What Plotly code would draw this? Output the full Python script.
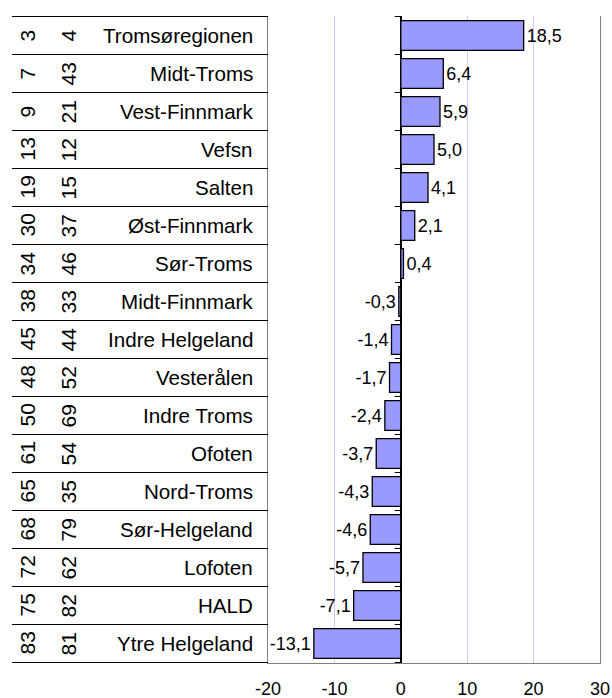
import plotly.graph_objects as go

regions = ["Tromsøregionen", "Midt-Troms", "Vest-Finnmark", "Vefsn", "Salten",
           "Øst-Finnmark", "Sør-Troms", "Midt-Finnmark", "Indre Helgeland",
           "Vesterålen", "Indre Troms", "Ofoten", "Nord-Troms", "Sør-Helgeland",
           "Lofoten", "HALD", "Ytre Helgeland"]
values = [18.5, 6.4, 5.9, 5.0, 4.1, 2.1, 0.4, -0.3, -1.4, -1.7, -2.4, -3.7,
          -4.3, -4.6, -5.7, -7.1, -13.1]
rank_a = [3, 7, 9, 13, 19, 30, 34, 38, 45, 48, 50, 61, 65, 68, 72, 75, 83]
rank_b = [4, 43, 21, 12, 15, 37, 46, 33, 44, 52, 69, 54, 35, 79, 62, 82, 81]
x_ticks = [-20, -10, 0, 10, 20, 30]

W, H = 612, 698
L, T = 268, 16
R = W - 600
B = H - 663
pw = W - L - R


def px_to_paper(px):
    return (px - L) / pw


FONT = "Liberation Sans, Arial, sans-serif"
labels = [f"{v:.1f}".replace(".", ",") for v in values]

fig = go.Figure()
fig.add_trace(go.Bar(
    x=values, y=regions, orientation="h",
    marker=dict(color="#9999ff", line=dict(color="#000000", width=1.3)),
    text=labels, textposition="outside", cliponaxis=False,
    constraintext="none",
    textfont=dict(family=FONT, size=18, color="#000000"),
    hoverinfo="skip",
    showlegend=False,
))

shapes = []
n = len(regions)
for i in range(n + 1):
    # table lines on the left
    shapes.append(dict(type="line", xref="paper", yref="y",
                       x0=px_to_paper(12), x1=0, y0=i - 0.5, y1=i - 0.5,
                       line=dict(color="#000000", width=1)))
    # small ticks on the zero line
    shapes.append(dict(type="line", xref="x", yref="y", xsizemode="pixel",
                       xanchor=0, x0=-6, x1=0, y0=i - 0.5, y1=i - 0.5,
                       line=dict(color="#000000", width=1)))

annotations = []
for i, r in enumerate(regions):
    annotations.append(dict(xref="paper", yref="y", x=px_to_paper(27), y=r,
                            xanchor="center", yanchor="middle",
                            text=str(rank_a[i]), textangle=-90, showarrow=False,
                            font=dict(family=FONT, size=21, color="#000000")))
    annotations.append(dict(xref="paper", yref="y", x=px_to_paper(68), y=r,
                            xanchor="center", yanchor="middle",
                            text=str(rank_b[i]), textangle=-90, showarrow=False,
                            font=dict(family=FONT, size=21, color="#000000")))
    annotations.append(dict(xref="paper", yref="y", x=px_to_paper(255), y=r,
                            text=r, xanchor="right", yanchor="middle",
                            showarrow=False,
                            font=dict(family=FONT, size=20.6, color="#000000")))

fig.update_layout(
    width=W, height=H,
    margin=dict(l=L, r=R, t=T, b=B),
    paper_bgcolor="white", plot_bgcolor="white",
    bargap=0.22,
    shapes=shapes, annotations=annotations,
    xaxis=dict(range=[-20, 30], tickvals=x_ticks,
               ticktext=[str(t) for t in x_ticks],
               showgrid=True, gridcolor="#ccccff", gridwidth=1,
               zeroline=True, zerolinecolor="#000000", zerolinewidth=1.5,
               showline=True, linecolor="#808080", linewidth=1,
               ticks="outside", ticklen=9, tickcolor="rgba(0,0,0,0)",
               tickfont=dict(family=FONT, size=18, color="#000000"),
               automargin=False, fixedrange=True),
    xaxis2=dict(range=[-20, 30], tickvals=x_ticks, overlaying="x", side="top",
                showticklabels=False, showgrid=False, zeroline=False,
                showline=True, linecolor="#000000", linewidth=1,
                ticks="outside", ticklen=6, tickcolor="#000000",
                automargin=False, fixedrange=True),
    yaxis=dict(autorange="reversed", showticklabels=False, ticks="",
               showgrid=False, showline=True, linecolor="#808080",
               linewidth=1, mirror=True, automargin=False, fixedrange=True),
)

# remove the browser's default 8px body margin so the figure fills the window
fig.write_html("out.html",
               config={"displayModeBar": False, "staticPlot": True},
               post_script="document.body.style.margin='0';"
                           "document.body.style.overflow='hidden';")
